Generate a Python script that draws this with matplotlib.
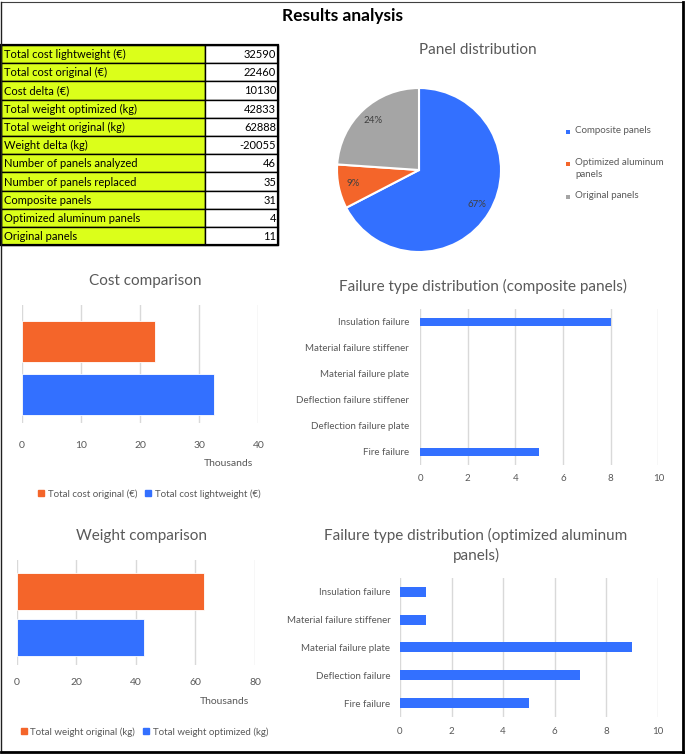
import matplotlib
matplotlib.use('Agg')
import matplotlib.pyplot as plt
from matplotlib.patches import Rectangle, Patch

W, H = 685, 754
plt.rcParams['font.family'] = ['Lato', 'DejaVu Sans']

# ---------------- data ----------------
table_labels = ['Total cost lightweight (€)', 'Total cost original (€)', 'Cost delta (€)',
                'Total weight optimized (kg)', 'Total weight original (kg)', 'Weight delta (kg)',
                'Number of panels analyzed', 'Number of panels replaced', 'Composite panels',
                'Optimized aluminum panels', 'Original panels']
table_values = ['32590', '22460', '10130', '42833', '62888', '-20055', '46', '35', '31', '4', '11']

pie_labels = ['Composite panels', 'Optimized aluminum\npanels', 'Original panels']
pie_counts = [31, 4, 11]

cost_labels = ['Total cost original (€)', 'Total cost lightweight (€)']
cost_values = [22460, 32590]
cost_ticks = [0, 10, 20, 30, 40]

weight_labels = ['Total weight original (kg)', 'Total weight optimized (kg)']
weight_values = [62888, 42833]
weight_ticks = [0, 20, 40, 60, 80]

comp_fail_types = ['Insulation failure', 'Material failure stiffener', 'Material failure plate',
                   'Deflection failure stiffener', 'Deflection failure plate', 'Fire failure']
comp_fail_counts = [8, 0, 0, 0, 0, 5]

alu_fail_types = ['Insulation failure', 'Material failure stiffener', 'Material failure plate',
                  'Deflection failure', 'Fire failure']
alu_fail_counts = [1, 1, 9, 7, 5]
fail_ticks = [0, 2, 4, 6, 8, 10]

# ---------------- style ----------------
BLUE = '#3370FF'
ORANGE = '#F4652A'
GREY = '#A5A5A5'
TXT = '#595959'
GRID = '#D9D9D9'
YEL = '#DBFF1A'

fig = plt.figure(figsize=(W / 100, H / 100), dpi=100)


def px_axes(x0, y0, x1, y1):
    return fig.add_axes([x0 / W, 1 - y1 / H, (x1 - x0) / W, (y1 - y0) / H])


bg = px_axes(0, 0, W, H)
bg.set_xlim(0, W)
bg.set_ylim(H, 0)
bg.axis('off')

# outer frame
bg.plot([0.8, W - 2], [1.5, 1.5], color='#404040', lw=0.8)
bg.plot([0.8, 0.8], [1.5, H - 2], color='#202020', lw=1.0)
bg.plot([W - 2, W - 2], [1.5, H - 2], color='black', lw=2.0)
bg.plot([0.8, W - 2], [H - 2, H - 2], color='black', lw=2.0)

bg.text(343, 16, 'Results analysis', ha='center', va='center', fontsize=12.5,
        fontweight='bold', color='black')

# ---------------- table ----------------
top, row_h = 45, 18.2
x0, x1, x2 = 1, 205, 278
for i, (lab, val) in enumerate(zip(table_labels, table_values)):
    y = top + i * row_h
    bg.add_patch(Rectangle((x0, y), x1 - x0, row_h, fc=YEL, ec='black', lw=1.0))
    bg.add_patch(Rectangle((x1, y), x2 - x1, row_h, fc='white', ec='black', lw=1.0))
    bg.text(x0 + 3, y + row_h / 2 + 0.5, lab, ha='left', va='center', fontsize=8, color='black')
    bg.text(x2 - 2, y + row_h / 2 + 0.5, val, ha='right', va='center', fontsize=8, color='black')
bg.add_patch(Rectangle((x0, top), x2 - x0, row_h * len(table_labels), fill=False, ec='black', lw=1.6))

# ---------------- pie ----------------
cx, cy, r = 419, 170, 82
pad = 1.1
axp = px_axes(cx - r * pad, cy - r * pad, cx + r * pad, cy + r * pad)
wedges, texts, autotexts = axp.pie(pie_counts, colors=[BLUE, ORANGE, GREY], startangle=90,
                                   counterclock=False, autopct='%1.0f%%', pctdistance=0.82,
                                   wedgeprops=dict(edgecolor='white', linewidth=1.5),
                                   textprops=dict(fontsize=7, color='#404040'))
axp.set_xlim(-pad, pad)
axp.set_ylim(-pad, pad)
axp.set_aspect('equal')
bg.text(478, 50, 'Panel distribution', ha='center', va='center', fontsize=11, color=TXT)

leg_y = [132, 164, 197]
for lab, col, ly in zip(pie_labels, [BLUE, ORANGE, GREY], leg_y):
    bg.add_patch(Rectangle((566, ly - 2.5), 4.5, 4.5, fc=col, ec='none'))
    bg.text(575, ly - 6, lab, ha='left', va='top', fontsize=7, color=TXT, linespacing=1.45)


# ---------------- comparison bars ----------------
def compare_chart(box, labels, values, ticks, ylim, height, tick_pad, title, title_xy,
                  thous_xy, legend_xy):
    ax = px_axes(*box)
    vals = [v / 1000 for v in values]
    ax.barh(range(len(vals)), vals, height=height, color=[ORANGE, BLUE],
            edgecolor='white', lw=0.6, zorder=3)
    ax.set_xlim(ticks[0], ticks[-1])
    ax.set_ylim(ylim[1], ylim[0])
    ax.set_xticks(ticks)
    ax.set_yticks([])
    ax.grid(axis='x', color=GRID, lw=1.0, zorder=0)
    for s in ax.spines.values():
        s.set_visible(False)
    ax.tick_params(axis='x', length=0, colors=TXT, labelsize=7.5, pad=tick_pad)
    bg.text(title_xy[0], title_xy[1], title, ha='center', va='center', fontsize=11, color=TXT)
    bg.text(thous_xy[0], thous_xy[1], 'Thousands', ha='center', va='center', fontsize=7.5, color=TXT)
    handles = [Patch(color=ORANGE, label=labels[0]), Patch(color=BLUE, label=labels[1])]
    ax.legend(handles=handles, ncol=2, loc='center',
              bbox_to_anchor=(legend_xy[0] / W, 1 - legend_xy[1] / H),
              bbox_transform=fig.transFigure, frameon=False, fontsize=7, labelcolor=TXT,
              handlelength=0.6, handleheight=0.6, handletextpad=0.4, columnspacing=0.8,
              borderaxespad=0, borderpad=0)
    return ax


compare_chart((21.7, 305, 258.3, 423), cost_labels, cost_values, cost_ticks, (-0.69, 1.54), 0.77,
              13, 'Cost comparison', (145, 281), (228, 464), (149.5, 494))
compare_chart((16.7, 560, 255, 665), weight_labels, weight_values, weight_ticks, (-0.69, 1.59), 0.8,
              9.5, 'Weight comparison', (142, 536), (224, 702), (144.5, 732))


# ---------------- failure distributions ----------------
def fail_chart(box, cats, counts, height, ypad, title_lines):
    ax = px_axes(*box)
    ax.barh(range(len(cats)), counts, height=height, color=BLUE, lw=0, zorder=3)
    ax.set_xlim(fail_ticks[0], fail_ticks[-1])
    ax.set_ylim(len(cats) - 0.5, -0.5)
    ax.set_xticks(fail_ticks)
    ax.set_yticks(range(len(cats)))
    ax.set_yticklabels(cats)
    ax.grid(axis='x', color=GRID, lw=1.0, zorder=0)
    for s in ax.spines.values():
        s.set_visible(False)
    ax.tick_params(axis='x', length=0, colors=TXT, labelsize=7, pad=7)
    ax.tick_params(axis='y', length=0, colors=TXT, labelsize=7, pad=ypad)
    for (tx, ty, tt) in title_lines:
        bg.text(tx, ty, tt, ha='center', va='center', fontsize=11, color=TXT)
    return ax


fail_chart((420, 308.7, 658.3, 464.7), comp_fail_types, comp_fail_counts, 0.32, 8,
           [(483, 286, 'Failure type distribution (composite panels)')])
fail_chart((400, 577.7, 657.7, 717.2), alu_fail_types, alu_fail_counts, 0.36, 7,
           [(476, 535, 'Failure type distribution (optimized aluminum'), (476, 555, 'panels)')])

fig.savefig('out.png', dpi=100)
